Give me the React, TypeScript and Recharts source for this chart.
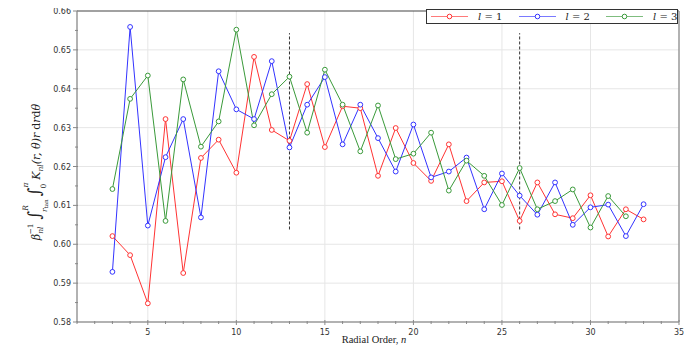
import React from "react";
import { LineChart, Line, XAxis, YAxis, CartesianGrid, ReferenceLine } from "recharts";

const radialOrders = [3, 4, 5, 6, 7, 8, 9, 10, 11, 12, 13, 14, 15, 16, 17, 18, 19, 20, 21, 22, 23, 24, 25, 26, 27, 28, 29, 30, 31, 32, 33];
const seriesL1 = [0.6021, 0.5972, 0.5848, 0.6322, 0.5926, 0.6222, 0.6269, 0.6184, 0.6482, 0.6294, 0.6266, 0.6412, 0.625, 0.6355, 0.635, 0.6176, 0.6299, 0.6209, 0.6163, 0.6257, 0.6111, 0.6159, 0.6162, 0.606, 0.6159, 0.6077, 0.6067, 0.6126, 0.602, 0.609, 0.6064];
const seriesL2 = [0.5929, 0.6559, 0.6048, 0.6224, 0.6322, 0.6069, 0.6445, 0.6347, 0.6322, 0.6471, 0.6249, 0.6359, 0.643, 0.6257, 0.6359, 0.6273, 0.6187, 0.6308, 0.6172, 0.6187, 0.6223, 0.609, 0.6182, 0.6125, 0.6076, 0.6159, 0.605, 0.6095, 0.6102, 0.6021, 0.6103];
const seriesL3 = [0.6142, 0.6374, 0.6434, 0.606, 0.6424, 0.6251, 0.6316, 0.6552, 0.6306, 0.6386, 0.6431, 0.6287, 0.6449, 0.6359, 0.6239, 0.6357, 0.6219, 0.6233, 0.6287, 0.6138, 0.6215, 0.6176, 0.6101, 0.6196, 0.609, 0.6111, 0.6141, 0.6043, 0.6124, 0.6072];

const xDomain = [1, 35];
const yDomain = [0.58, 0.66];
const xMajorTicks = [5, 10, 15, 20, 25, 30, 35];
const xAllTicks = Array.from({ length: 35 }, (_, i) => i + 1);
const yMajorTicks = [0.58, 0.59, 0.6, 0.61, 0.62, 0.63, 0.64, 0.65, 0.66];
const yMinorTicks = [0.585, 0.595, 0.605, 0.615, 0.625, 0.635, 0.645, 0.655];
const yAllTicks = [...yMajorTicks, ...yMinorTicks].sort((a, b) => a - b);
const dividerX = [13, 26];
const dividerYRange = [0.6038, 0.6543];

const series = [
  { key: "l1", label: "1", color: "#ff3333", values: seriesL1 },
  { key: "l2", label: "2", color: "#3333ff", values: seriesL2 },
  { key: "l3", label: "3", color: "#3a9a3a", values: seriesL3 },
];

const data = radialOrders.map((n, i) => {
  const row: any = { n };
  series.forEach((s) => {
    row[s.key] = s.values[i] !== undefined ? s.values[i] : null;
  });
  return row;
});

const W = 692;
const H = 342;
const M = { top: 3, right: 21, bottom: 0, left: 0 };

const XTick = (props: any) => {
  const { x, y, payload } = props;
  const major = xMajorTicks.includes(payload.value);
  return (
    <g>
      <line x1={x} x2={x} y1={y - (major ? 2 : 1)} y2={y + (major ? 3 : 2)} stroke="#888" strokeWidth={1} />
      {major && (
        <text x={x} y={y + 13} textAnchor="middle" fontSize={8} fill="#333" fontFamily="DejaVu Sans">
          {payload.value}
        </text>
      )}
    </g>
  );
};

const YTick = (props: any) => {
  const { x, y, payload } = props;
  const major = yMajorTicks.some((t) => Math.abs(t - payload.value) < 1e-6);
  return (
    <g>
      <line x1={x - (major ? 4 : 2)} x2={x + 1} y1={y} y2={y} stroke="#888" strokeWidth={1} />
      {major && (
        <text x={x - 6} y={y + 3} textAnchor="end" fontSize={8} fill="#333" fontFamily="DejaVu Sans">
          {payload.value.toFixed(2)}
        </text>
      )}
    </g>
  );
};

const Legend = () => (
  <div
    style={{
      position: "absolute",
      left: 418,
      top: 1,
      width: 252,
      height: 15,
      border: "1px solid #333",
      background: "#fff",
      boxSizing: "border-box",
    }}
  >
    {series.map((s, i) => (
      <div key={s.key} style={{ position: "absolute", left: 3 + i * 87.5, top: 0, height: 13, display: "flex", alignItems: "center" }}>
        <svg width={40} height={13}>
          <line x1={1} x2={38} y1={6.5} y2={6.5} stroke={s.color} strokeOpacity={0.65} strokeWidth={1.2} />
          <circle cx={19.5} cy={6.5} r={2.3} fill="#fff" stroke={s.color} strokeWidth={1} />
        </svg>
        <span style={{ marginLeft: 8, fontFamily: "DejaVu Serif", fontSize: 10, color: "#222", whiteSpace: "nowrap", lineHeight: "13px" }}>
          <i>l</i> = {s.label}
        </span>
      </div>
    ))}
  </div>
);

const AxisLabels = () => (
  <svg width={W} height={H} style={{ position: "absolute", left: 0, top: 0, pointerEvents: "none" }}>
    <text x={366} y={335} textAnchor="middle" fontFamily="Liberation Serif" fontSize={10.5} fill="#222">
      Radial Order, <tspan fontStyle="italic">n</tspan>
    </text>
    <text transform="translate(32,164) rotate(-90)" textAnchor="middle" fontFamily="DejaVu Serif" fontSize={11} fill="#222">
      <tspan fontStyle="italic">β</tspan>
      <tspan fontSize={7.5} fontStyle="italic" dy={3}>nl</tspan>
      <tspan fontSize={7.5} dx={-8} dy={-10}>−1</tspan>
      <tspan fontSize={17} dx={4} dy={7}>∫</tspan>
      <tspan fontSize={7.5} fontStyle="italic" dy={-12}>R</tspan>
      <tspan fontSize={7.5} fontStyle="italic" dx={-7} dy={19}>r</tspan>
      <tspan fontSize={5.5} dy={1}>tan</tspan>
      <tspan fontSize={17} dx={3} dy={-8}>∫</tspan>
      <tspan fontSize={7.5} fontStyle="italic" dy={-12}>π</tspan>
      <tspan fontSize={7.5} dx={-6} dy={18}>0</tspan>
      <tspan fontStyle="italic" dx={4} dy={-6}>K</tspan>
      <tspan fontSize={7.5} fontStyle="italic" dy={3}>nl</tspan>
      <tspan fontStyle="italic" dy={-3}>(r, θ)r</tspan>
      <tspan dx={3}>d</tspan>
      <tspan fontStyle="italic">r</tspan>
      <tspan>d</tspan>
      <tspan fontStyle="italic">θ</tspan>
    </text>
  </svg>
);

export default function App() {
  return (
    <div style={{ position: "relative", width: W, height: H, background: "#fff" }}>
      <LineChart width={W} height={H} data={data} margin={M}>
        <CartesianGrid
          stroke="#e6e6e6"
          strokeWidth={1}
          verticalValues={xMajorTicks.slice(0, -1)}
          horizontalValues={yMajorTicks.slice(1, -1)}
        />
        <XAxis
          dataKey="n"
          type="number"
          domain={xDomain}
          ticks={xAllTicks}
          interval={0}
          allowDataOverflow
          height={28}
          tickLine={false}
          tickSize={0}
          tickMargin={0}
          tick={<XTick />}
          axisLine={{ stroke: "#999", strokeWidth: 1.5 }}
        />
        <YAxis
          type="number"
          domain={yDomain}
          ticks={yAllTicks}
          interval={0}
          allowDataOverflow
          width={69}
          tickLine={false}
          tickSize={0}
          tickMargin={0}
          tick={<YTick />}
          axisLine={{ stroke: "#999", strokeWidth: 1.5 }}
        />
        <ReferenceLine y={yDomain[1]} stroke="#444" strokeWidth={1.2} />
        <ReferenceLine x={xDomain[1]} stroke="#999" strokeWidth={1.5} />
        {dividerX.map((x) => (
          <ReferenceLine
            key={x}
            segment={[
              { x, y: dividerYRange[0] },
              { x, y: dividerYRange[1] },
            ]}
            stroke="#333"
            strokeWidth={1}
            strokeDasharray="3 2"
          />
        ))}
        {series.map((s) => (
          <Line
            key={s.key}
            dataKey={s.key}
            type="linear"
            stroke={s.color}
            strokeWidth={1}
            dot={{ r: 2.4, fill: "#fff", stroke: s.color, strokeWidth: 1 }}
            activeDot={false}
            isAnimationActive={false}
            connectNulls={false}
          />
        ))}
      </LineChart>
      <AxisLabels />
      <Legend />
    </div>
  );
}
